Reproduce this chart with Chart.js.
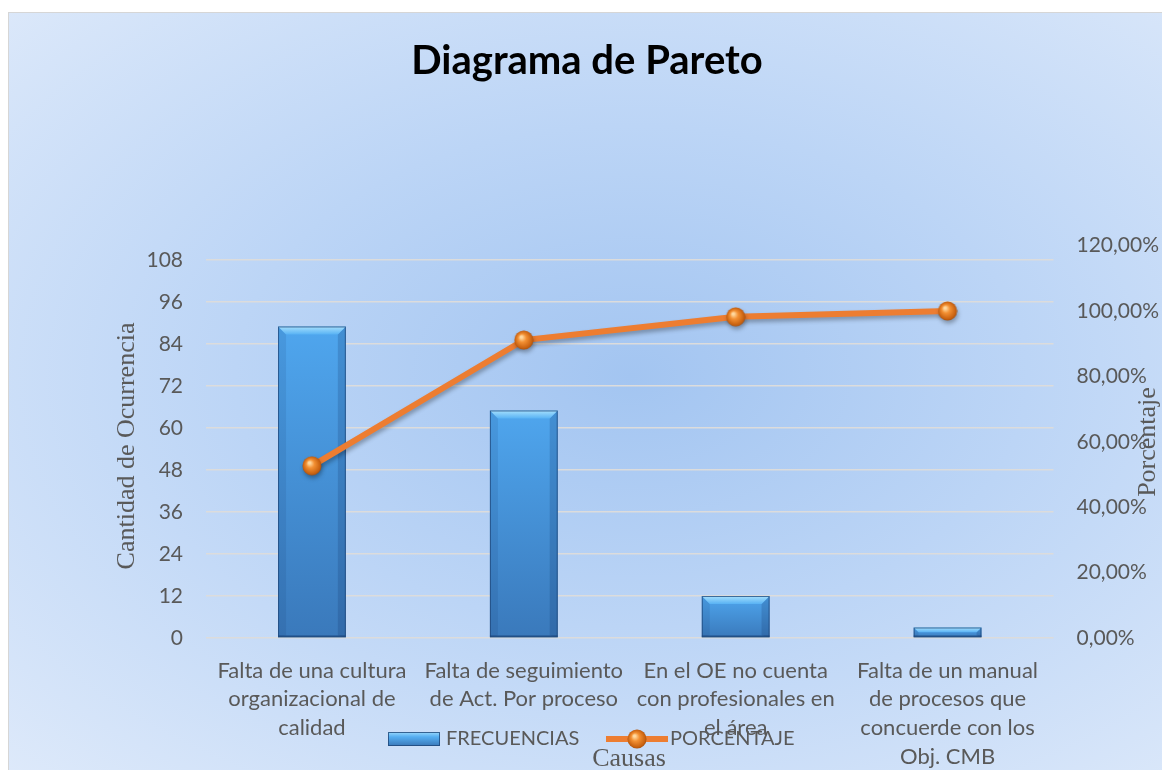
<!DOCTYPE html>
<html>
<head>
<meta charset="utf-8">
<script src="https://cdn.jsdelivr.net/npm/chart.js@4.4.1/dist/chart.umd.min.js"></script>
<style>
  html, body { margin: 0; padding: 0; background: #fff; width: 1162px; height: 770px; overflow: hidden; }
  #bg {
    position: absolute; left: 8px; top: 12px; right: 0; bottom: 0;
    border-left: 1px solid #d6d6d6; border-top: 1px solid #d6d6d6;
    background: radial-gradient(ellipse at 54% 48%, #a3c5f1 0%, #bcd5f6 45%, #dde9fa 100%);
  }
  #myChart { position: absolute; left: 0; top: 0; }
</style>
</head>
<body>
<div id="bg"></div>
<canvas id="myChart" width="1162" height="770"></canvas>
<script>
// ===== DATA =====
const categories = [
  ['Falta de una cultura', 'organizacional de', 'calidad'],
  ['Falta de seguimiento', 'de Act. Por proceso'],
  ['En el OE no cuenta', 'con profesionales en', 'el área'],
  ['Falta de un manual', 'de procesos que', 'concuerde con los', 'Obj. CMB']
];
const frecuencias = [89, 65, 12, 3];
const porcentaje = [52.66, 91.12, 98.22, 100];
const leftTicks = [0, 12, 24, 36, 48, 60, 72, 84, 96, 108];
const rightTicks = [0, 20, 40, 60, 80, 100, 120];

const tickFont = { family: 'Lato', size: 21 };
const catFont = { family: 'Lato', size: 22, lineHeight: 1.3 };
const grey = '#595959';
const orange = '#ed7d31';

// little orange sphere used as point marker
function makeSphere(size) {
  const c = document.createElement('canvas');
  c.width = size; c.height = size;
  const g = c.getContext('2d');
  const r = size / 2;
  const grad = g.createRadialGradient(r * 0.75, r * 0.7, 1, r, r, r);
  grad.addColorStop(0, '#ffd9a0');
  grad.addColorStop(0.35, '#f39033');
  grad.addColorStop(0.85, '#c7600f');
  grad.addColorStop(1, '#9a4a0c');
  g.fillStyle = grad;
  g.beginPath(); g.arc(r, r, r - 0.5, 0, Math.PI * 2); g.fill();
  return c;
}
const sphere = makeSphere(20);

function barFill(context) {
  const chart = context.chart;
  if (context.type !== 'data' || !chart.scales.y) return '#4592da';
  const y = chart.scales.y;
  const top = y.getPixelForValue(context.raw);
  const bot = y.getPixelForValue(0);
  if (!Number.isFinite(top) || !Number.isFinite(bot) || bot <= top) return '#4592da';
  const g = chart.ctx.createLinearGradient(0, top, 0, bot);
  g.addColorStop(0, '#4fa6ee');
  g.addColorStop(1, '#3a79bb');
  return g;
}

// bevel look on bars, shadow on line, titles and legend
const decor = {
  id: 'decor',
  beforeDatasetDraw(chart, args) {
    if (args.index === 1) {
      const ctx = chart.ctx;
      ctx.save();
      ctx.shadowColor = 'rgba(0,0,0,0.3)';
      ctx.shadowBlur = 4;
      ctx.shadowOffsetX = 1;
      ctx.shadowOffsetY = 3;
    }
  },
  afterDatasetDraw(chart, args) {
    const ctx = chart.ctx;
    if (args.index === 1) { ctx.restore(); return; }
    if (args.index !== 0) return;
    args.meta.data.forEach(el => {
      const p = el.getProps(['x', 'y', 'base', 'width'], true);
      const l = p.x - p.width / 2, r = p.x + p.width / 2, t = p.y, b = p.base;
      const bv = Math.min(8, (b - t) / 2);
      ctx.save();
      // sides
      ctx.fillStyle = 'rgba(10,40,90,0.18)';
      ctx.beginPath(); ctx.moveTo(r, t); ctx.lineTo(r - bv, t + bv); ctx.lineTo(r - bv, b - 2); ctx.lineTo(r, b); ctx.fill();
      ctx.fillStyle = 'rgba(10,40,90,0.10)';
      ctx.beginPath(); ctx.moveTo(l, t); ctx.lineTo(l + bv, t + bv); ctx.lineTo(l + bv, b - 2); ctx.lineTo(l, b); ctx.fill();
      // top bevel
      const tg = ctx.createLinearGradient(0, t, 0, t + bv);
      tg.addColorStop(0, '#a6e0fd');
      tg.addColorStop(1, '#58b2f4');
      ctx.fillStyle = tg;
      ctx.beginPath(); ctx.moveTo(l, t); ctx.lineTo(r, t); ctx.lineTo(r - bv, t + bv); ctx.lineTo(l + bv, t + bv); ctx.closePath(); ctx.fill();
      // bottom edge
      ctx.fillStyle = 'rgba(10,40,90,0.35)';
      ctx.fillRect(l, b - 2, p.width, 2);
      ctx.strokeStyle = 'rgba(30,70,120,0.75)';
      ctx.lineWidth = 1;
      ctx.strokeRect(l + 0.5, t + 0.5, p.width - 1, b - t - 1);
      ctx.restore();
    });
  },
  afterDraw(chart) {
    const ctx = chart.ctx;
    ctx.save();
    // title
    ctx.fillStyle = '#000';
    ctx.font = 'bold 40px Lato';
    ctx.textAlign = 'center';
    ctx.textBaseline = 'alphabetic';
    ctx.fillText('Diagrama de Pareto', 587, 74);

    // axis titles
    ctx.fillStyle = grey;
    ctx.font = '26px "Liberation Serif"';
    ctx.save();
    ctx.translate(134, 446); ctx.rotate(-Math.PI / 2);
    ctx.fillText('Cantidad de Ocurrencia', 0, 0);
    ctx.restore();
    ctx.save();
    ctx.translate(1155, 442); ctx.rotate(-Math.PI / 2);
    ctx.fillText('Porcentaje', 0, 0);
    ctx.restore();

    // legend
    const ly = 739;
    const sg = ctx.createLinearGradient(0, ly - 7, 0, ly + 7);
    sg.addColorStop(0, '#9ad9fc');
    sg.addColorStop(0.35, '#55aef1');
    sg.addColorStop(1, '#3a78b8');
    ctx.fillStyle = sg;
    ctx.fillRect(388, ly - 7, 52, 14);
    ctx.strokeStyle = 'rgba(30,70,120,0.8)';
    ctx.lineWidth = 1;
    ctx.strokeRect(388.5, ly - 6.5, 51, 13);
    ctx.strokeStyle = orange;
    ctx.lineWidth = 6;
    ctx.beginPath(); ctx.moveTo(606, ly); ctx.lineTo(668, ly); ctx.stroke();
    ctx.drawImage(sphere, 627, ly - 10);
    ctx.fillStyle = grey;
    ctx.font = '20px Lato';
    ctx.textAlign = 'left';
    ctx.textBaseline = 'middle';
    ctx.fillText('FRECUENCIAS', 446, ly);
    ctx.fillText('PORCENTAJE', 670, ly);

    // x axis title (on top of legend, like the original)
    ctx.font = '26px "Liberation Serif"';
    ctx.textAlign = 'center';
    ctx.textBaseline = 'alphabetic';
    ctx.fillText('Causas', 629, 766);
    ctx.restore();
  }
};

const ctx1 = document.getElementById('myChart').getContext('2d');
new Chart(ctx1, {
  type: 'bar',
  data: {
    labels: categories,
    datasets: [
      {
        type: 'bar',
        label: 'FRECUENCIAS',
        data: frecuencias,
        yAxisID: 'y',
        backgroundColor: barFill,
        borderWidth: 0,
        barPercentage: 0.32,
        categoryPercentage: 1,
        order: 2
      },
      {
        type: 'line',
        label: 'PORCENTAJE',
        data: porcentaje,
        yAxisID: 'y1',
        borderColor: orange,
        borderWidth: 6,
        pointStyle: sphere,
        pointRadius: 10,
        pointHoverRadius: 10,
        tension: 0,
        order: 1
      }
    ]
  },
  options: {
    responsive: false,
    animation: false,
    layout: { padding: { top: 245.6, left: 0, right: 0, bottom: 0 } },
    plugins: {
      legend: { display: false },
      title: { display: false },
      tooltip: { enabled: false }
    },
    scales: {
      x: {
        grid: { display: false, drawTicks: false },
        border: { display: false },
        ticks: { color: grey, font: catFont, padding: 18.5, maxRotation: 0, autoSkip: false },
        afterFit(s) { s.height = 132; }
      },
      y: {
        position: 'left',
        min: 0,
        max: 112.1,
        afterBuildTicks(s) { s.ticks = leftTicks.map(v => ({ value: v })); },
        grid: { color: '#dcdcdc', lineWidth: 1.5, drawTicks: false },
        border: { display: false },
        ticks: { color: grey, font: tickFont, padding: 23 },
        afterFit(s) { s.width = 206; }
      },
      y1: {
        position: 'right',
        min: 0,
        max: 120,
        afterBuildTicks(s) { s.ticks = rightTicks.map(v => ({ value: v })); },
        grid: { display: false, drawTicks: false },
        border: { display: false },
        ticks: {
          color: grey, font: tickFont, padding: 23,
          callback: v => v.toFixed(2).replace('.', ',') + '%'
        },
        afterFit(s) { s.width = 108.5; }
      }
    }
  },
  plugins: [decor]
});
</script>
</body>
</html>
